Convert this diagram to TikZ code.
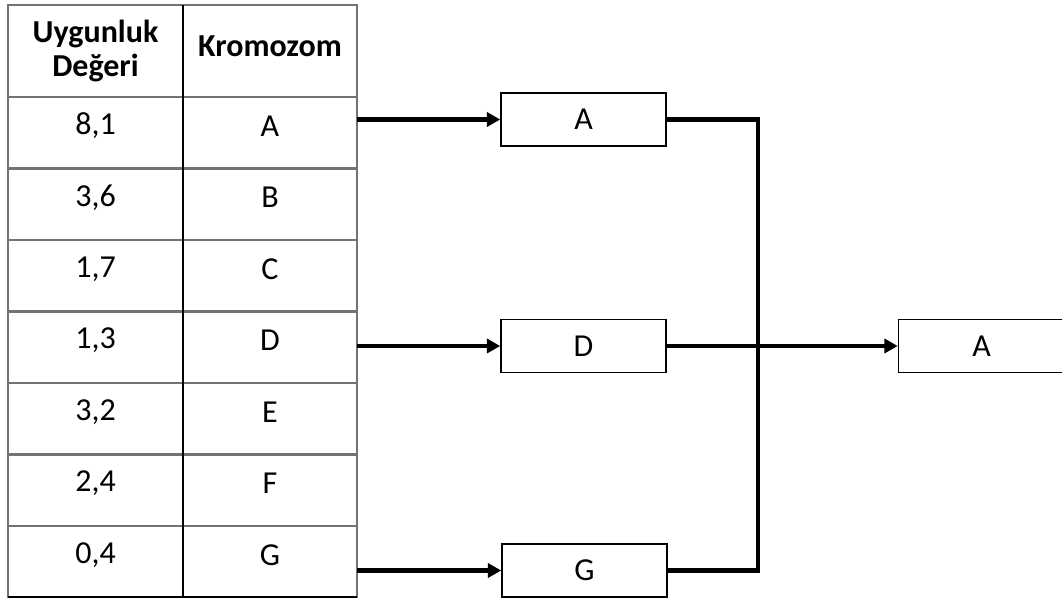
\documentclass[tikz,border=0pt]{standalone}
\usepackage{fontspec}
\setmainfont{Carlito}
\usetikzlibrary{arrows.meta}
\begin{document}
\begin{tikzpicture}[x=0.75pt,y=-0.75pt,
  cell/.style={inner sep=0pt,font=\fontsize{24}{28}\selectfont},
  head/.style={inner sep=0pt,font=\fontsize{24}{26}\selectfont\bfseries,align=center},
  grid/.style={draw=black!55,line width=1.6pt},
  box/.style={draw=black,line width=1.1pt,minimum width=123.75pt,minimum height=39.5pt,
              inner sep=0pt,font=\fontsize{24}{28}\selectfont},
  link/.style={line width=3.5pt},
  arrow/.style={link,-{Triangle[length=10pt,width=10.5pt]}}]
\useasboundingbox (0,0) rectangle (1062,599);

% table grid
\draw[grid] (8,5) rectangle (357,597);
\foreach \y in {97,168.5,240,311.5,383,454.5,526}
  \draw[grid] (8,\y) -- (357,\y);
\draw[black,line width=0.9pt] (183,5) -- (183,597);
\draw[black,line width=1.2pt] (8,597) -- (357,597);

% header
\node[head] (h1) at (95.5,51) {Uygunluk\\Değeri};
\node[head] (h2) at (270,46) {Kromozom};

% rows: fitness value and chromosome
\node[cell] (v1) at (95.5,126) {8,1};   \node[cell] (c1) at (270,126) {A};
\node[cell] (v2) at (95.5,197.5) {3,6}; \node[cell] (c2) at (270,197.5) {B};
\node[cell] (v3) at (95.5,269) {1,7};   \node[cell] (c3) at (270,269) {C};
\node[cell] (v4) at (95.5,340.5) {1,3}; \node[cell] (c4) at (270,340.5) {D};
\node[cell] (v5) at (95.5,412) {3,2};   \node[cell] (c5) at (270,412) {E};
\node[cell] (v6) at (95.5,483.5) {2,4}; \node[cell] (c6) at (270,483.5) {F};
\node[cell] (v7) at (95.5,555) {0,4};   \node[cell] (c7) at (270,555) {G};

% selected chromosomes and result
\node[box] (bA) at (583.5,119.5) {A};
\node[box] (bD) at (583.5,346) {D};
\node[box] (bG) at (584.5,570.5) {G};
\node[box,minimum width=124.5pt] (res) at (981.5,346) {A};

\coordinate (tr) at (357,0);
\coordinate (j) at (758,0);

\draw[arrow] (bA.west -| tr) -- (bA.west);
\draw[arrow] (bD.west -| tr) -- (bD.west);
\draw[arrow] (bG.west -| tr) -- (bG.west);

\draw[link] (bA.east) -- (bA.east -| j) -- (bG.east -| j) -- (bG.east);
\draw[arrow] (bD.east) -- (res.west);
\end{tikzpicture}
\end{document}
